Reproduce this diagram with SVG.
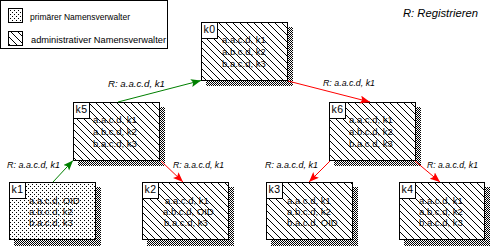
<svg xmlns="http://www.w3.org/2000/svg" width="490" height="246" viewBox="0 0 490 246">
<style>
text{font-family:"Liberation Sans",Arial,sans-serif;fill:#000}
.box{stroke:#000;stroke-width:1}
.hatch{fill:url(#hatch)}
.dots{fill:url(#dots)}
.shadow{fill:url(#checker)}
.tag{fill:#fff;stroke:#000;stroke-width:1}
.tagt{font-size:10.5px;letter-spacing:0.6px}
.bt{font-size:9.5px}
.el{font-size:9px;font-style:italic}
.lg{font-size:9px}
.g{stroke:#008000;stroke-width:1;fill:none}
.r{stroke:#ff0000;stroke-width:1;fill:none}
</style>
<defs>
<pattern id="hatch" patternUnits="userSpaceOnUse" width="7" height="7">
<rect width="7" height="7" fill="#fff"/>
<path d="M0,0L7,7M-1,6L1,8M6,-1L8,1" stroke="#000" stroke-width="1"/>
</pattern>
<pattern id="dots" patternUnits="userSpaceOnUse" width="4" height="4">
<rect width="4" height="4" fill="#fff"/>
<rect x="0" y="0" width="1" height="1" fill="#000"/>
<rect x="2" y="2" width="1" height="1" fill="#000"/>
</pattern>
<pattern id="checker" patternUnits="userSpaceOnUse" width="2" height="2">
<rect width="2" height="2" fill="#fff"/>
<rect x="0" y="0" width="1" height="1" fill="#000"/>
<rect x="1" y="1" width="1" height="1" fill="#000"/>
</pattern>
<marker id="ag" markerUnits="userSpaceOnUse" markerWidth="12" markerHeight="10" refX="10" refY="4" orient="auto">
<path d="M0,0L10,4L0,8L2,4z" fill="#008000"/>
</marker>
<marker id="ar" markerUnits="userSpaceOnUse" markerWidth="12" markerHeight="10" refX="10" refY="4" orient="auto">
<path d="M0,0L10,4L0,8L2,4z" fill="#ff0000"/>
</marker>
</defs>
<rect width="490" height="246" fill="#fff"/>

<g id="legend">
<rect x="0.5" y="0.5" width="167" height="48" fill="#fff" stroke="#000"/>
<rect x="8.5" y="8.5" width="14" height="14" class="box dots"/>
<text x="30" y="19.5" class="lg" textLength="100" lengthAdjust="spacingAndGlyphs">primärer Namensverwalter</text>
<rect x="8.5" y="31.5" width="14" height="14" class="box hatch"/>
<text x="31" y="42.5" class="lg" textLength="135" lengthAdjust="spacingAndGlyphs">administrativer Namensverwalter</text>
</g>
<text x="403" y="17" style="font-size:10px;font-style:italic" textLength="75" lengthAdjust="spacingAndGlyphs">R: Registrieren</text>

<g id="k0">
<rect x="206" y="27" width="87" height="59" class="shadow"/>
<rect x="201.5" y="22.5" width="86" height="58" class="box hatch"/>
<rect x="201.5" y="22.5" width="16" height="16" class="tag"/>
<text x="203.5" y="33" class="tagt">k0</text>
<text x="222" y="43" class="bt">a.a.c.d, k1</text>
<text x="222" y="55" class="bt">a.b.c.d, k2</text>
<text x="222" y="66.5" class="bt">b.a.c.d, k3</text>
</g>

<g id="k5">
<rect x="78" y="107" width="87" height="59" class="shadow"/>
<rect x="73.5" y="102.5" width="86" height="58" class="box hatch"/>
<rect x="73.5" y="102.5" width="16" height="16" class="tag"/>
<text x="75.5" y="113" class="tagt">k5</text>
<text x="93" y="123" class="bt">a.a.c.d, k1</text>
<text x="93" y="135" class="bt">a.b.c.d, k2</text>
<text x="93" y="146.5" class="bt">b.a.c.d, k3</text>
</g>

<g id="k6">
<rect x="334" y="107" width="87" height="59" class="shadow"/>
<rect x="329.5" y="102.5" width="86" height="58" class="box hatch"/>
<rect x="329.5" y="102.5" width="16" height="16" class="tag"/>
<text x="331.5" y="113" class="tagt">k6</text>
<text x="349" y="123" class="bt">a.a.c.d, k1</text>
<text x="349" y="135" class="bt">a.b.c.d, k2</text>
<text x="349" y="146.5" class="bt">b.a.c.d, k3</text>
</g>

<g id="k1">
<rect x="14" y="187" width="87" height="59" class="shadow"/>
<rect x="9.5" y="182.5" width="86" height="57" class="box dots"/>
<rect x="9.5" y="182.5" width="16" height="16" class="tag"/>
<text x="11.5" y="193" class="tagt">k1</text>
<text x="29" y="203.5" class="bt">a.a.c.d, OID</text>
<text x="29" y="214.5" class="bt">a.b.c.d, k2</text>
<text x="29" y="225.5" class="bt">b.a.c.d, k3</text>
</g>

<g id="k2">
<rect x="147" y="187" width="87" height="59" class="shadow"/>
<rect x="142.5" y="182.5" width="86" height="57" class="box hatch"/>
<rect x="142.5" y="182.5" width="16" height="16" class="tag"/>
<text x="144.5" y="193" class="tagt">k2</text>
<text x="165" y="203.5" class="bt">a.a.c.d, k1</text>
<text x="163" y="214.5" class="bt">a.b.c.d, OID</text>
<text x="164" y="225.5" class="bt">b.a.c.d, k3</text>
</g>

<g id="k3">
<rect x="271" y="187" width="87" height="59" class="shadow"/>
<rect x="266.5" y="182.5" width="86" height="57" class="box hatch"/>
<rect x="266.5" y="182.5" width="16" height="16" class="tag"/>
<text x="268.5" y="193" class="tagt">k3</text>
<text x="287" y="203.5" class="bt">a.a.c.d, k1</text>
<text x="287" y="214.5" class="bt">a.b.c.d, k2</text>
<text x="287" y="225.5" class="bt">b.a.c.d, OID</text>
</g>

<g id="k4">
<rect x="404" y="187" width="86" height="59" class="shadow"/>
<rect x="399.5" y="182.5" width="85" height="57" class="box hatch"/>
<rect x="399.5" y="182.5" width="16" height="16" class="tag"/>
<text x="401.5" y="193" class="tagt">k4</text>
<text x="419" y="203.5" class="bt">a.a.c.d, k1</text>
<text x="419" y="214.5" class="bt">a.b.c.d, k2</text>
<text x="419" y="225.5" class="bt">b.a.c.d, k3</text>
</g>

<g id="connectors">
<line x1="118" y1="102" x2="201" y2="80.5" class="g" marker-end="url(#ag)"/>
<line x1="288" y1="81" x2="370" y2="102" class="r" marker-end="url(#ar)"/>
<line x1="53" y1="182" x2="73" y2="160.5" class="g" marker-end="url(#ag)"/>
<line x1="161" y1="161" x2="183" y2="182" class="r" marker-end="url(#ar)"/>
<line x1="330" y1="161" x2="309" y2="182" class="r" marker-end="url(#ar)"/>
<line x1="415" y1="161" x2="440" y2="182" class="r" marker-end="url(#ar)"/>
<text x="108" y="87" class="el" textLength="57" lengthAdjust="spacingAndGlyphs">R: a.a.c.d, k1</text>
<text x="323" y="86" class="el" textLength="52" lengthAdjust="spacingAndGlyphs">R: a.a.c.d, k1</text>
<text x="7" y="168" class="el" textLength="53" lengthAdjust="spacingAndGlyphs">R: a.a.c.d, k1</text>
<text x="173" y="168" class="el" textLength="51" lengthAdjust="spacingAndGlyphs">R: a.a.c.d, k1</text>
<text x="265" y="168" class="el" textLength="53" lengthAdjust="spacingAndGlyphs">R: a.a.c.d, k1</text>
<text x="427" y="168" class="el" textLength="51" lengthAdjust="spacingAndGlyphs">R: a.a.c.d, k1</text>
</g>
</svg>
